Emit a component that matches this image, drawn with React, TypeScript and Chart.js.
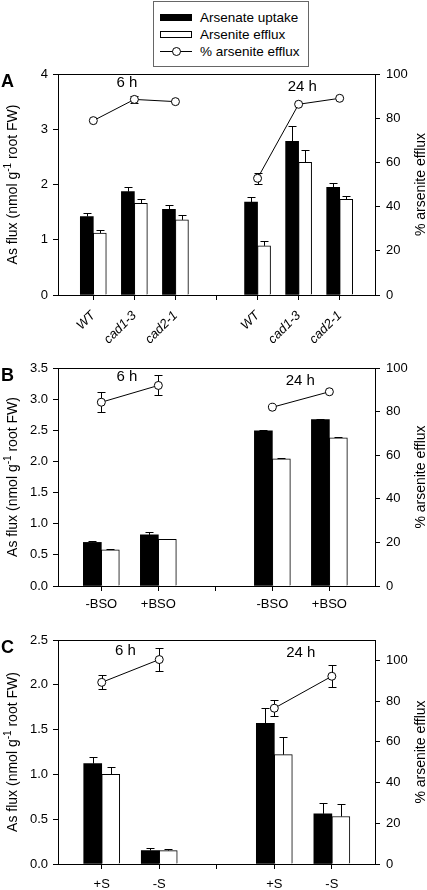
import React, { useEffect, useRef } from 'react';
import { Chart, registerables } from 'chart.js';

Chart.register(...registerables);
Chart.defaults.color = '#000';

const FONT = '"Liberation Sans", Arial, Helvetica, sans-serif';

// ---------- Panel A ----------
const aGroups = ['6 h', '24 h'];
const aCategories = ['WT', 'cad1-3', 'cad2-1'];
const aUptake = [1.42, 1.87, 1.55, 1.68, 2.78, 1.95];
const aUptakeErr = [0.06, 0.08, 0.08, 0.09, 0.28, 0.07];
const aEfflux = [1.12, 1.66, 1.36, 0.89, 2.4, 1.73];
const aEffluxErr = [0.05, 0.07, 0.08, 0.09, 0.23, 0.07];
const aPercent = [78.9, 88.5, 87.5, 52.8, 86.3, 89.0];
const aPercentErr = [0, 1.5, 0, 2.5, 0, 0];
const aLeftTicks = [0, 1, 2, 3, 4];
const aRightTicks = [0, 20, 40, 60, 80, 100];

// ---------- Panel B ----------
const bGroups = ['6 h', '24 h'];
const bCategories = ['-BSO', '+BSO'];
const bUptake = [0.7, 0.82, 2.49, 2.67];
const bUptakeErr = [0.02, 0.04, 0.01, 0.01];
const bEfflux = [0.58, 0.75, 2.04, 2.38];
const bEffluxErr = [0.01, 0.01, 0.02, 0.02];
const bPercent = [84.3, 92.0, 82.0, 89.1];
const bPercentErr = [4.5, 4.6, 0, 0];
const bLeftTicks = [0, 0.5, 1.0, 1.5, 2.0, 2.5, 3.0, 3.5];
const bRightTicks = [0, 20, 40, 60, 80, 100];

// ---------- Panel C ----------
const cGroups = ['6 h', '24 h'];
const cCategories = ['+S', '-S'];
const cUptake = [1.12, 0.15, 1.57, 0.56];
const cUptakeErr = [0.07, 0.03, 0.17, 0.12];
const cEfflux = [1.0, 0.15, 1.22, 0.53];
const cEffluxErr = [0.08, 0.02, 0.2, 0.14];
const cPercent = [89.2, 100.4, 76.5, 92.2];
const cPercentErr = [3.5, 5.5, 3.8, 5.5];
const cLeftTicks = [0, 0.5, 1.0, 1.5, 2.0, 2.5];
const cRightTicks = [0, 20, 40, 60, 80, 100];

const legendLabels = ['Arsenate uptake', 'Arsenite efflux', '% arsenite efflux'];
const leftTitle = ['As flux (nmol g', '-1', ' root FW)'];
const rightTitle = '% arsenite efflux';

type PanelSpec = {
  letter: string;
  top: number;
  height: number;
  plotTop: number;
  plotBottom: number;
  plotLeft: number;
  plotRight: number;
  groups: string[];
  categories: string[];
  uptake: number[];
  uptakeErr: number[];
  efflux: number[];
  effluxErr: number[];
  percent: number[];
  percentErr: number[];
  leftTicks: number[];
  leftDecimals: number;
  rightTicks: number[];
  rightMax: number;
  barThickness: number;
  xMin: number;
  xMax: number;
  rotation: number;
  italic: boolean;
  labelPadding: number;
  groupLabelPos: { x: number; y: number }[];
};

const panels: PanelSpec[] = [
  {
    letter: 'A', top: 0, height: 345, plotTop: 74, plotBottom: 295, plotLeft: 58, plotRight: 375,
    groups: aGroups, categories: aCategories, uptake: aUptake, uptakeErr: aUptakeErr,
    efflux: aEfflux, effluxErr: aEffluxErr, percent: aPercent, percentErr: aPercentErr,
    leftTicks: aLeftTicks, leftDecimals: 0, rightTicks: aRightTicks, rightMax: 100,
    barThickness: 13, xMin: -0.86, xMax: 6.86, rotation: 45, italic: true, labelPadding: 8,
    groupLabelPos: [{ x: 0.82, y: 95.8 }, { x: 5.09, y: 94 }],
  },
  {
    letter: 'B', top: 345, height: 270, plotTop: 368, plotBottom: 586, plotLeft: 58, plotRight: 375,
    groups: bGroups, categories: bCategories, uptake: bUptake, uptakeErr: bUptakeErr,
    efflux: bEfflux, effluxErr: bEffluxErr, percent: bPercent, percentErr: bPercentErr,
    leftTicks: bLeftTicks, leftDecimals: 1, rightTicks: bRightTicks, rightMax: 100,
    barThickness: 18, xMin: -0.76, xMax: 4.8, rotation: 0, italic: false, labelPadding: 6,
    groupLabelPos: [{ x: 0.45, y: 96 }, { x: 3.49, y: 94.3 }],
  },
  {
    letter: 'C', top: 615, height: 275, plotTop: 640, plotBottom: 864, plotLeft: 58, plotRight: 375,
    groups: cGroups, categories: cCategories, uptake: cUptake, uptakeErr: cUptakeErr,
    efflux: cEfflux, effluxErr: cEffluxErr, percent: cPercent, percentErr: cPercentErr,
    leftTicks: cLeftTicks, leftDecimals: 1, rightTicks: cRightTicks, rightMax: 110,
    barThickness: 18, xMin: -0.76, xMax: 4.75, rotation: 0, italic: false, labelPadding: 8,
    groupLabelPos: [{ x: 0.41, y: 104.8 }, { x: 3.46, y: 103.5 }],
  },
];

function makeExtras(p: PanelSpec) {
  const cap = 4;
  return {
    id: 'extras' + p.letter,
    beforeDatasetDraw(chart: any, args: any) {
      if (args.index !== 2) return;
      const ctx = chart.ctx;
      const yl = chart.scales.yL;
      const yr = chart.scales.yR;
      ctx.save();
      ctx.strokeStyle = '#000';
      ctx.lineWidth = 1;
      const seg = (x1: number, y1: number, x2: number, y2: number) => {
        ctx.beginPath();
        ctx.moveTo(x1, y1);
        ctx.lineTo(x2, y2);
        ctx.stroke();
      };
      const barVals = [p.uptake, p.efflux];
      const barErrs = [p.uptakeErr, p.effluxErr];
      [0, 1].forEach((di) => {
        const meta = chart.getDatasetMeta(di);
        meta.data.forEach((el: any, j: number) => {
          const e = barErrs[di][j];
          if (!e) return;
          const v = barVals[di][j];
          const px = Math.round(el.x) + 0.5;
          const y0 = yl.getPixelForValue(v);
          const y1 = Math.round(yl.getPixelForValue(v + e)) + 0.5;
          seg(px, y0, px, y1);
          seg(px - cap, y1, px + cap, y1);
        });
      });
      const lmeta = chart.getDatasetMeta(2);
      let k = 0;
      lmeta.data.forEach((el: any, j: number) => {
        const raw = chart.data.datasets[2].data[j];
        if (raw.y === null) return;
        const e = p.percentErr[k];
        const v = p.percent[k];
        k++;
        if (!e) return;
        const px = Math.round(el.x) + 0.5;
        const yTop = Math.round(yr.getPixelForValue(v + e)) + 0.5;
        const yBot = Math.round(yr.getPixelForValue(v - e)) + 0.5;
        seg(px, yTop, px, yBot);
        seg(px - cap, yTop, px + cap, yTop);
        seg(px - cap, yBot, px + cap, yBot);
      });
      ctx.restore();
    },
    afterDraw(chart: any) {
      const ctx = chart.ctx;
      const area = chart.chartArea;
      const xs = chart.scales.x;
      const yr = chart.scales.yR;
      ctx.save();
      ctx.strokeStyle = '#000';
      ctx.lineWidth = 1;
      const ty = Math.round(area.top - 0.5) + 0.5;
      ctx.beginPath();
      ctx.moveTo(Math.round(area.left), ty);
      ctx.lineTo(Math.round(area.right) + 1, ty);
      ctx.stroke();

      ctx.fillStyle = '#000';
      // group labels
      ctx.font = '15px ' + FONT;
      ctx.textAlign = 'center';
      ctx.textBaseline = 'middle';
      p.groups.forEach((g, i) => {
        const pos = p.groupLabelPos[i];
        ctx.fillText(g, xs.getPixelForValue(pos.x), yr.getPixelForValue(pos.y));
      });

      // panel letter
      ctx.font = 'bold 18px ' + FONT;
      ctx.textAlign = 'left';
      ctx.textBaseline = 'alphabetic';
      ctx.fillText(p.letter, 1, area.top + 13);

      // axis titles
      const midY = (area.top + area.bottom) / 2;
      const mainFont = '14px ' + FONT;
      const supFont = '10px ' + FONT;
      ctx.font = mainFont;
      const w1 = ctx.measureText(leftTitle[0]).width;
      const w3 = ctx.measureText(leftTitle[2]).width;
      ctx.font = supFont;
      const w2 = ctx.measureText(leftTitle[1]).width;
      const total = w1 + w2 + w3;
      ctx.save();
      ctx.translate(17, midY);
      ctx.rotate(-Math.PI / 2);
      ctx.textBaseline = 'alphabetic';
      ctx.textAlign = 'left';
      let x0 = -total / 2;
      ctx.font = mainFont;
      ctx.fillText(leftTitle[0], x0, 0);
      x0 += w1;
      ctx.font = supFont;
      ctx.fillText(leftTitle[1], x0, -6);
      x0 += w2;
      ctx.font = mainFont;
      ctx.fillText(leftTitle[2], x0, 0);
      ctx.restore();

      ctx.save();
      ctx.translate(425, midY);
      ctx.rotate(-Math.PI / 2);
      ctx.font = mainFont;
      ctx.textAlign = 'center';
      ctx.textBaseline = 'alphabetic';
      ctx.fillText(rightTitle, 0, 0);
      ctx.restore();

      ctx.restore();
    },
  };
}

function buildConfig(p: PanelSpec): any {
  const n = p.categories.length;
  const pos = (k: number) => Math.floor(k / n) * (n + 1) + (k % n);
  const tickPositions = Array.from({ length: 2 * n + 1 }, (_, i) => i);
  const labelAt: Record<number, string> = {};
  p.uptake.forEach((_, k) => {
    labelAt[pos(k)] = p.categories[k % n];
  });
  const uptakeData = p.uptake.map((v, k) => ({ x: pos(k), y: v }));
  const effluxData = p.efflux.map((v, k) => ({ x: pos(k), y: v }));
  const lineData: { x: number; y: number | null }[] = [];
  p.percent.forEach((v, k) => {
    if (k === n) lineData.push({ x: n, y: null });
    lineData.push({ x: pos(k), y: v });
  });
  const tickFont = { family: FONT, size: 13 };
  const gridCfg = { drawOnChartArea: false, drawTicks: true, tickLength: 5, color: '#000', lineWidth: 1, offset: false };
  return {
    type: 'bar',
    data: {
      datasets: [
        {
          label: legendLabels[0], data: uptakeData, yAxisID: 'yL', backgroundColor: '#000',
          borderColor: '#000', borderWidth: 0, barThickness: p.barThickness, order: 1,
        },
        {
          label: legendLabels[1], data: effluxData, yAxisID: 'yL', backgroundColor: '#fff',
          borderColor: '#000', borderWidth: 1, barThickness: p.barThickness, order: 1,
        },
        {
          type: 'line', label: legendLabels[2], data: lineData, yAxisID: 'yR', borderColor: '#000',
          borderWidth: 1, pointRadius: 4, pointBackgroundColor: '#fff', pointBorderColor: '#000',
          pointBorderWidth: 1, spanGaps: false, order: 0, clip: false,
        },
      ],
    },
    options: {
      responsive: false,
      animation: false,
      events: [],
      layout: { padding: { top: p.plotTop - p.top, left: 0, right: 0, bottom: 0 } },
      plugins: { legend: { display: false }, tooltip: { enabled: false } },
      scales: {
        x: {
          type: 'linear',
          min: p.xMin,
          max: p.xMax,
          offset: false,
          afterBuildTicks: (s: any) => {
            s.ticks = tickPositions.map((v) => ({ value: v }));
          },
          afterFit: (s: any) => {
            s.height = p.top + p.height - p.plotBottom;
          },
          ticks: {
            autoSkip: false,
            maxRotation: p.rotation,
            minRotation: p.rotation,
            padding: p.labelPadding,
            font: { family: FONT, size: 13, style: p.italic ? 'italic' : 'normal' },
            callback: (v: number) => labelAt[v] ?? '',
          },
          grid: gridCfg,
          border: { display: true, color: '#000', width: 1 },
        },
        yL: {
          type: 'linear',
          position: 'left',
          min: 0,
          max: p.leftTicks[p.leftTicks.length - 1],
          afterBuildTicks: (s: any) => {
            s.ticks = p.leftTicks.map((v) => ({ value: v }));
          },
          afterFit: (s: any) => {
            s.width = p.plotLeft;
          },
          ticks: { font: tickFont, padding: 5, callback: (v: number) => v.toFixed(p.leftDecimals) },
          grid: gridCfg,
          border: { display: true, color: '#000', width: 1 },
        },
        yR: {
          type: 'linear',
          position: 'right',
          min: 0,
          max: p.rightMax,
          afterBuildTicks: (s: any) => {
            s.ticks = p.rightTicks.map((v) => ({ value: v }));
          },
          afterFit: (s: any) => {
            s.width = 427 - p.plotRight;
          },
          ticks: { font: tickFont, padding: 6, callback: (v: number) => String(v) },
          grid: gridCfg,
          border: { display: true, color: '#000', width: 1 },
        },
      },
    },
    plugins: [makeExtras(p)],
  };
}

function Panel({ p }: { p: PanelSpec }) {
  const ref = useRef<HTMLCanvasElement | null>(null);
  useEffect(() => {
    if (!ref.current) return;
    const chart = new Chart(ref.current, buildConfig(p));
    return () => chart.destroy();
  }, [p]);
  return (
    <canvas
      ref={ref}
      width={427}
      height={p.height}
      style={{ position: 'absolute', left: 0, top: p.top, width: 427, height: p.height }}
    />
  );
}

function Legend() {
  const textStyle = (cy: number): React.CSSProperties => ({
    position: 'absolute', left: 46, top: cy - 9, height: 18, lineHeight: '18px',
    fontSize: 13.5, fontFamily: FONT, color: '#000', whiteSpace: 'nowrap',
  });
  return (
    <div
      style={{
        position: 'absolute', left: 153, top: 1, width: 156, height: 66, boxSizing: 'border-box',
        border: '1px solid #666', background: '#fff',
      }}
    >
      <div style={{ position: 'absolute', left: 6, top: 12, width: 32, height: 7, background: '#000' }} />
      <div style={textStyle(16)}>{legendLabels[0]}</div>
      <div
        style={{
          position: 'absolute', left: 6, top: 29, width: 32, height: 7, background: '#fff',
          border: '1px solid #000', boxSizing: 'border-box',
        }}
      />
      <div style={textStyle(33)}>{legendLabels[1]}</div>
      <div style={{ position: 'absolute', left: 6, top: 49, width: 32, height: 1, background: '#000' }} />
      <div
        style={{
          position: 'absolute', left: 18, top: 45, width: 9, height: 9, borderRadius: '50%',
          background: '#fff', border: '1px solid #000', boxSizing: 'border-box',
        }}
      />
      <div style={textStyle(50)}>{legendLabels[2]}</div>
    </div>
  );
}

export default function App() {
  return (
    <div style={{ position: 'absolute', left: 0, top: 0, width: 427, height: 890, background: '#fff', overflow: 'hidden' }}>
      {panels.map((p) => (
        <Panel key={p.letter} p={p} />
      ))}
      <Legend />
    </div>
  );
}
